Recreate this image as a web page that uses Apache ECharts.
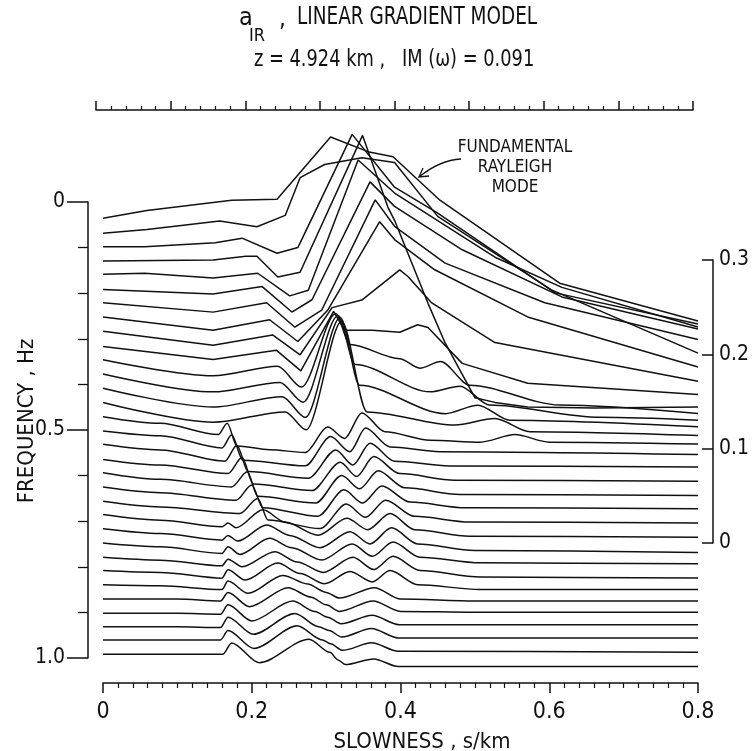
<!DOCTYPE html>
<html>
<head>
<meta charset="utf-8">
<script src="https://cdn.jsdelivr.net/npm/echarts@6/dist/echarts.min.js"></script>
<style>
  html, body { margin: 0; background: #fff; }
  #chart { width: 752px; height: 751px; }
</style>
</head>
<body>
<div id="chart"></div>
<script>
// frequency of each trace (Hz), top to bottom
const freqs = [];
for (let k = 1; k <= 32; k++) freqs.push(k / 32);

// each trace: [slowness s/km, amplitude] (amplitude in units of the right-hand scale bar)
const T01 = [[0,-0.002],[0.059,0.006],[0.173,0.017],[0.234,0.018],[0.306,0.084],[0.358,0.068],[0.390,0.063],[0.453,0.017],[0.614,-0.071],[0.8,-0.111]];
const T02 = [[0,-0.003],[0.059,0.001],[0.157,0.010],[0.207,0.004],[0.245,0.016],[0.265,0.056],[0.298,0.070],[0.348,0.077],[0.392,0.072],[0.450,0.015],[0.603,-0.063],[0.8,-0.130]];
const T03 = [[0,-0.002],[0.056,-0.002],[0.151,0.002],[0.187,0.007],[0.234,-0.009],[0.262,-0.003],[0.335,0.117],[0.392,0.061],[0.449,0.034],[0.608,-0.051],[0.8,-0.084]];
const T04 = [[0,-0.002],[0.148,-0.001],[0.192,0.003],[0.207,0.003],[0.235,-0.019],[0.265,-0.014],[0.349,0.131],[0.383,0.055],[0.392,0.041],[0.437,-0.047],[0.460,-0.089],[0.500,-0.147],[0.527,-0.152],[0.571,-0.157],[0.661,-0.158],[0.8,-0.157]];
const T05 = [[0,-0.001],[0.056,0.0],[0.148,-0.005],[0.208,0.0],[0.251,-0.024],[0.276,-0.018],[0.343,0.120],[0.392,0.085],[0.527,0.017],[0.617,-0.015],[0.8,-0.057]];
const T06 = [[0,-0.002],[0.148,-0.007],[0.214,0.001],[0.254,-0.026],[0.281,-0.013],[0.359,0.112],[0.392,0.086],[0.483,0.040],[0.617,-0.010],[0.8,-0.044]];
const T07 = [[0,-0.001],[0.148,-0.011],[0.220,-0.001],[0.258,-0.027],[0.294,-0.009],[0.366,0.108],[0.392,0.080],[0.460,0.041],[0.594,-0.001],[0.8,-0.040]];
const T08 = [[0,-0.001],[0.148,-0.015],[0.224,-0.004],[0.262,-0.027],[0.302,0.006],[0.372,0.100],[0.392,0.081],[0.446,0.049],[0.571,-0.001],[0.8,-0.054]];
const T09 = [[0,-0.001],[0.148,-0.016],[0.228,-0.005],[0.265,-0.026],[0.308,0.024],[0.348,0.032],[0.399,0.064],[0.410,0.057],[0.442,0.029],[0.527,-0.013],[0.8,-0.054]];
const T10 = [[0,-0.002],[0.148,-0.016],[0.233,-0.006],[0.266,-0.028],[0.310,0.035],[0.325,0.015],[0.362,0.015],[0.399,0.013],[0.423,0.021],[0.437,0.018],[0.483,-0.020],[0.571,-0.041],[0.8,-0.053]];
const T11 = [[0,-0.001],[0.148,-0.018],[0.235,-0.008],[0.267,-0.030],[0.313,0.048],[0.332,0.015],[0.399,0.0],[0.426,-0.010],[0.454,-0.003],[0.493,-0.028],[0.614,-0.049],[0.8,-0.058]];
const T12 = [[0,-0.001],[0.148,-0.020],[0.238,-0.010],[0.269,-0.031],[0.316,0.061],[0.339,0.009],[0.440,-0.020],[0.480,-0.014],[0.520,-0.034],[0.668,-0.047],[0.8,-0.050]];
const T13 = [[0,-0.001],[0.148,-0.021],[0.241,-0.010],[0.272,-0.032],[0.319,0.074],[0.345,0.002],[0.460,-0.028],[0.504,-0.019],[0.547,-0.035],[0.8,-0.042]];
const T14 = [[0,-0.001],[0.148,-0.022],[0.245,-0.011],[0.273,-0.030],[0.321,0.085],[0.355,-0.011],[0.473,-0.025],[0.527,-0.018],[0.574,-0.032],[0.8,-0.036]];
const T15 = [[0,-0.001],[0.077,-0.008],[0.155,-0.020],[0.167,-0.008],[0.180,-0.032],[0.224,-0.036],[0.272,-0.039],[0.302,-0.012],[0.325,-0.024],[0.348,0.003],[0.379,-0.017],[0.440,-0.026],[0.507,-0.028],[0.554,-0.020],[0.600,-0.028],[0.8,-0.030]];
const T16 = [[0,-0.001],[0.077,-0.006],[0.160,-0.019],[0.173,-0.005],[0.188,-0.032],[0.272,-0.038],[0.306,-0.007],[0.332,-0.023],[0.353,0.002],[0.386,-0.018],[0.453,-0.023],[0.8,-0.026]];
const T17 = [[0,0.0],[0.077,-0.006],[0.164,-0.018],[0.180,-0.001],[0.195,-0.029],[0.276,-0.036],[0.313,-0.006],[0.336,-0.022],[0.359,0.001],[0.392,-0.018],[0.466,-0.023],[0.8,-0.024]];
const T18 = [[0,-0.001],[0.077,-0.007],[0.168,-0.016],[0.187,0.001],[0.202,-0.027],[0.281,-0.034],[0.319,-0.004],[0.341,-0.019],[0.364,0.002],[0.399,-0.016],[0.473,-0.023],[0.8,-0.024]];
const T19 = [[0,0.0],[0.077,-0.007],[0.173,-0.015],[0.194,0.001],[0.208,-0.025],[0.286,-0.032],[0.321,-0.003],[0.345,-0.017],[0.370,0.002],[0.406,-0.016],[0.480,-0.023],[0.8,-0.024]];
const T20 = [[0,0.0],[0.077,-0.006],[0.179,-0.014],[0.200,0.002],[0.215,-0.022],[0.289,-0.031],[0.324,-0.003],[0.349,-0.017],[0.375,0.001],[0.413,-0.016],[0.487,-0.022],[0.8,-0.023]];
const T21 = [[0,0.0],[0.077,-0.006],[0.184,-0.013],[0.208,0.003],[0.222,-0.020],[0.292,-0.029],[0.327,-0.003],[0.353,-0.017],[0.380,0.001],[0.419,-0.016],[0.493,-0.022],[0.8,-0.023]];
const T22 = [[0,0.001],[0.077,-0.005],[0.160,-0.012],[0.168,-0.008],[0.179,-0.013],[0.215,0.006],[0.245,-0.007],[0.289,-0.021],[0.328,-0.003],[0.356,-0.015],[0.386,0.002],[0.419,-0.015],[0.493,-0.022],[0.8,-0.023]];
const T23 = [[0,0.001],[0.077,-0.004],[0.160,-0.011],[0.168,-0.006],[0.181,-0.012],[0.220,0.005],[0.251,-0.006],[0.292,-0.019],[0.332,-0.002],[0.359,-0.015],[0.388,0.002],[0.423,-0.015],[0.500,-0.022],[0.8,-0.024]];
const T24 = [[0,0.001],[0.077,-0.003],[0.160,-0.010],[0.168,-0.003],[0.184,-0.011],[0.224,0.006],[0.254,-0.004],[0.294,-0.017],[0.335,0.0],[0.362,-0.013],[0.390,0.002],[0.426,-0.014],[0.507,-0.020],[0.8,-0.021]];
const T25 = [[0,0.001],[0.077,-0.002],[0.160,-0.008],[0.168,-0.001],[0.187,-0.009],[0.231,0.007],[0.261,-0.004],[0.296,-0.015],[0.336,0.001],[0.364,-0.012],[0.390,0.002],[0.426,-0.013],[0.507,-0.020],[0.8,-0.021]];
const T26 = [[0,0.002],[0.077,0.0],[0.160,-0.006],[0.168,0.003],[0.191,-0.008],[0.235,0.010],[0.265,-0.001],[0.298,-0.012],[0.332,0.001],[0.362,-0.010],[0.386,0.002],[0.423,-0.013],[0.507,-0.018],[0.8,-0.018]];
const T27 = [[0,0.002],[0.077,0.001],[0.160,-0.003],[0.168,0.006],[0.195,-0.007],[0.242,0.012],[0.275,0.003],[0.300,-0.006],[0.318,-0.012],[0.365,-0.001],[0.400,-0.013],[0.500,-0.015],[0.8,-0.015]];
const T28 = [[0,0.002],[0.100,0.002],[0.158,0.0],[0.168,0.009],[0.197,-0.006],[0.249,0.014],[0.280,0.004],[0.300,-0.004],[0.318,-0.011],[0.363,0.0],[0.400,-0.011],[0.500,-0.012],[0.8,-0.012]];
const T29 = [[0,0.002],[0.100,0.002],[0.158,0.001],[0.168,0.011],[0.200,-0.006],[0.255,0.015],[0.285,0.004],[0.302,-0.002],[0.320,-0.009],[0.362,0.0],[0.398,-0.010],[0.8,-0.010]];
const T30 = [[0,0.003],[0.100,0.003],[0.158,0.002],[0.168,0.013],[0.202,-0.005],[0.258,0.017],[0.290,0.003],[0.304,-0.001],[0.321,-0.008],[0.361,0.001],[0.397,-0.009],[0.8,-0.009]];
const T31 = [[0,0.004],[0.158,0.004],[0.168,0.014],[0.203,-0.005],[0.261,0.019],[0.295,0.004],[0.306,0.0],[0.322,-0.007],[0.361,0.001],[0.397,-0.008],[0.8,-0.009]];
const T32 = [[0,0.004],[0.161,0.004],[0.173,0.016],[0.210,-0.005],[0.277,0.020],[0.305,0.006],[0.316,-0.002],[0.326,-0.007],[0.364,-0.001],[0.397,-0.009],[0.8,-0.009]];

const traces = [T01,T02,T03,T04,T05,T06,T07,T08,T09,T10,T11,T12,T13,T14,T15,T16,
                T17,T18,T19,T20,T21,T22,T23,T24,T25,T26,T27,T28,T29,T30,T31,T32];

// tick labels
const slownessLabels = ['0', '0.2', '0.4', '0.6', '0.8'];
const freqLabels = ['0', '0.5', '1.0'];
const ampLabels = ['0', '0.1', '0.2', '0.3'];

// plot geometry (px)
const PLOT = { left: 103, top: 202, width: 595, height: 456 };
const BAR = { left: 700, top: 260, width: 19, height: 283 };
// amplitude of 1 on the scale bar expressed in frequency units of the main axis
const AMP_TO_F = (BAR.height / 0.3) / PLOT.height;

const FONT = '"Liberation Sans Narrow", "DejaVu Sans Condensed", "Liberation Sans", sans-serif';
const INK = '#111';

const chart = echarts.init(document.getElementById('chart'), null, { renderer: 'canvas' });

const series = traces.map((pts, i) => ({
  type: 'line',
  xAxisIndex: 0,
  yAxisIndex: 0,
  data: pts.map(p => [p[0], freqs[i] - p[1] * AMP_TO_F]),
  showSymbol: false,
  smooth: i < 10 ? false : 0.3,
  smoothMonotone: 'x',
  clip: false,
  silent: true,
  lineStyle: { color: INK, width: 1.5 },
  z: 2 + i
}));

const option = {
  backgroundColor: '#fff',
  animation: false,
  grid: [
    { left: PLOT.left, top: PLOT.top, width: PLOT.width, height: PLOT.height },
    { left: BAR.left, top: BAR.top, width: BAR.width, height: BAR.height },
    { left: 96, top: 100, width: 597, height: 10 }
  ],
  xAxis: [
    {
      gridIndex: 0, type: 'value', min: 0, max: 0.8, interval: 0.2, position: 'bottom', offset: 25,
      axisLine: { show: true, onZero: false, lineStyle: { color: INK, width: 1.5 } },
      axisTick: { show: true, length: 10, lineStyle: { color: INK, width: 1.5 } },
      minorTick: { show: true, splitNumber: 10, length: 5, lineStyle: { color: INK, width: 1.2 } },
      splitLine: { show: false },
      axisLabel: {
        margin: 18, fontFamily: FONT, fontSize: 23, color: INK,
        formatter: v => slownessLabels[Math.round(v / 0.2)]
      }
    },
    { gridIndex: 1, type: 'value', show: false, min: 0, max: 1 },
    {
      gridIndex: 2, type: 'value', min: 0, max: 0.8, interval: 0.1, position: 'bottom',
      axisLine: { show: true, onZero: false, lineStyle: { color: INK, width: 1.5 } },
      axisTick: { show: true, inside: true, length: 9, lineStyle: { color: INK, width: 1.5 } },
      minorTick: { show: true, splitNumber: 5, length: 4, lineStyle: { color: INK, width: 1.2 } },
      axisLabel: { show: false },
      splitLine: { show: false }
    }
  ],
  yAxis: [
    {
      gridIndex: 0, type: 'value', min: 0, max: 1, interval: 0.5, inverse: true, position: 'left', offset: 15,
      axisLine: { show: true, onZero: false, lineStyle: { color: INK, width: 1.5 } },
      axisTick: { show: true, length: 21, lineStyle: { color: INK, width: 1.5 } },
      minorTick: { show: true, splitNumber: 5, length: 10, lineStyle: { color: INK, width: 1.3 } },
      splitLine: { show: false },
      axisLabel: {
        margin: 23, fontFamily: FONT, fontSize: 21, color: INK,
        formatter: v => freqLabels[Math.round(v / 0.5)]
      }
    },
    {
      gridIndex: 1, type: 'value', min: 0, max: 0.3, interval: 0.1, position: 'right',
      axisLine: { show: true, onZero: false, lineStyle: { color: INK, width: 1.5 } },
      axisTick: { show: true, inside: true, length: 11, lineStyle: { color: INK, width: 1.5 } },
      splitLine: { show: false },
      axisLabel: {
        margin: 6, fontFamily: FONT, fontSize: 21, color: INK,
        formatter: v => ampLabels[Math.round(v / 0.1)]
      }
    },
    { gridIndex: 2, type: 'value', show: false, min: 0, max: 1 }
  ],
  graphic: [
    // title
    { type: 'text', x: 239, y: 6, style: { text: 'a', font: '25px ' + FONT, fill: INK } },
    { type: 'text', x: 249, y: 27, style: { text: 'IR', font: '18px ' + FONT, fill: INK } },
    { type: 'text', x: 279, y: 8, style: { text: ',', font: '24px ' + FONT, fill: INK } },
    { type: 'text', x: 297, y: 5, scaleX: 0.82,
      style: { text: 'LINEAR GRADIENT MODEL', font: '25px ' + FONT, fill: INK } },
    { type: 'text', x: 254, y: 49, scaleX: 0.86,
      style: { text: 'z = 4.924 km ,   IM (\u03c9) = 0.091', font: '23px ' + FONT, fill: INK } },
    // annotation
    { type: 'text', x: 515, y: 138,
      style: { text: 'FUNDAMENTAL\nRAYLEIGH\nMODE', font: '17px ' + FONT, fill: INK, align: 'center', lineHeight: 20 } },
    { type: 'bezierCurve', shape: { x1: 461, y1: 159, x2: 419, y2: 177, cpx1: 440, cpy1: 160 },
      style: { stroke: INK, lineWidth: 1.3, fill: null } },
    { type: 'polyline', shape: { points: [[423, 168], [419, 177], [429, 176]] },
      style: { stroke: INK, lineWidth: 1.3, fill: null } },
    // axis titles
    { type: 'text', x: 27, y: 421, rotation: Math.PI / 2,
      style: { text: 'FREQUENCY , Hz', font: '22px ' + FONT, fill: INK, align: 'center', verticalAlign: 'middle' } },
    { type: 'text', x: 422, y: 742,
      style: { text: 'SLOWNESS , s/km', font: '22px ' + FONT, fill: INK, align: 'center', verticalAlign: 'middle' } }
  ],
  series: series
};

chart.setOption(option);
</script>
</body>
</html>
